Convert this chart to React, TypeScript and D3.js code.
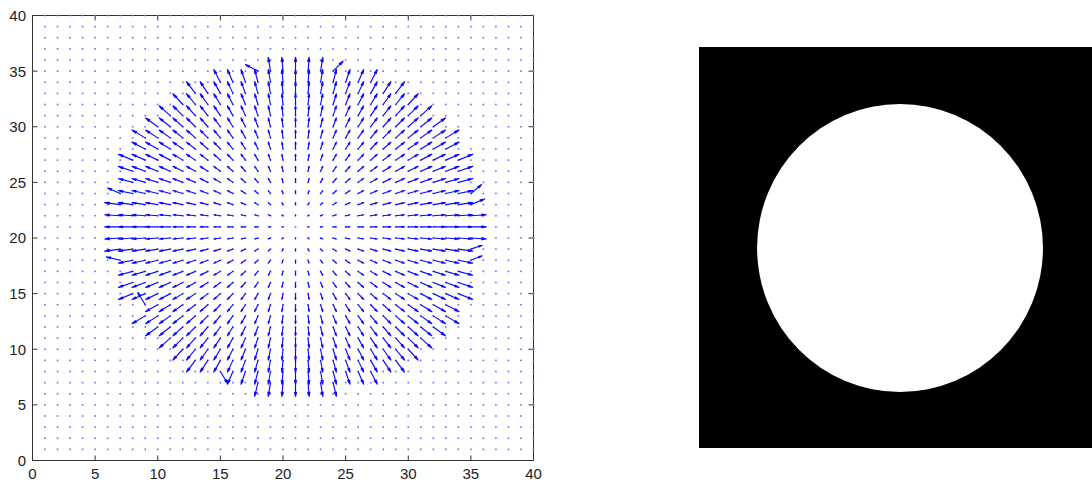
import React from 'react';
import * as d3 from 'd3';

// ---- data ----
const gridMax = 40;
const xTicks = [0, 5, 10, 15, 20, 25, 30, 35, 40];
const yTicks = [0, 5, 10, 15, 20, 25, 30, 35, 40];
const fieldCenter = [21, 21];
const fieldGain = 0.088;
// grid rows that carry non-zero vectors: [y, xFirst, xLast]
const vectorRows: [number, number, number][] = [
  [7, 18, 24], [8, 15, 27], [9, 13, 29], [10, 12, 30], [11, 11, 31], [12, 10, 32],
  [13, 9, 33], [14, 9, 33], [15, 8, 34], [16, 8, 34], [17, 8, 34],
  [18, 7, 35], [19, 7, 35], [20, 7, 35], [21, 7, 35], [22, 7, 35], [23, 7, 35], [24, 7, 35],
  [25, 8, 34], [26, 8, 34], [27, 8, 34], [28, 9, 33], [29, 9, 33], [30, 10, 32],
  [31, 11, 31], [32, 12, 30], [33, 13, 29], [34, 15, 27], [35, 18, 24],
];
// irregular vectors: [x, y, u, v]
const irregular: [number, number, number, number][] = [
  [18, 35, -1.0, 0.6],
  [24, 35, 0.8, 0.9],
  [9, 14, -0.6, 1.1],
  [15, 8, 0.6, -1.1],
  [35, 24, 0.85, 0.8],
  [35, 23, 1.1, 0.5],
  [35, 19, 0.9, 0.35],
  [35, 18, 0.9, 0.4],
  [7, 24, -1.0, 0.5],
  [7, 18, -1.1, 0.3],
];
// right panel: binary image, [cx, cy, rx, ry] in image units (0..40)
const imageDomain = [0, 40];
const imageCircle = [20.46, 20.05, 14.55, 14.36];

export default function App() {
  const x = d3.scaleLinear().domain([0, gridMax]).range([32.5, 533.5]);
  const y = d3.scaleLinear().domain([0, gridMax]).range([460.5, 15.5]);

  const ix = d3.scaleLinear().domain(imageDomain).range([699, 1092]);
  const iy = d3.scaleLinear().domain(imageDomain).range([47, 448]);

  const irrMap = new Map<string, [number, number]>();
  irregular.forEach(([a, b, u, v]) => irrMap.set(`${a},${b}`, [u, v]));

  const arrows = d3.path();
  const alpha = 0.3, beta = 0.22;
  vectorRows.forEach(([gy, x0, x1]) => {
    for (let gx = x0; gx <= x1; gx++) {
      let u = fieldGain * (gx - fieldCenter[0]);
      let v = fieldGain * (gy - fieldCenter[1]);
      const irr = irrMap.get(`${gx},${gy}`);
      if (irr) { u = irr[0]; v = irr[1]; }
      if (Math.abs(u) < 1e-9 && Math.abs(v) < 1e-9) continue;
      const tx = gx + u, ty = gy + v;
      arrows.moveTo(x(gx), y(gy));
      arrows.lineTo(x(tx), y(ty));
      const h1x = tx - alpha * (u + beta * v), h1y = ty - alpha * (v - beta * u);
      const h2x = tx - alpha * (u - beta * v), h2y = ty - alpha * (v + beta * u);
      arrows.moveTo(x(h1x), y(h1y));
      arrows.lineTo(x(tx), y(ty));
      arrows.lineTo(x(h2x), y(h2y));
    }
  });

  const dots: [number, number][] = [];
  for (let gy = 1; gy <= gridMax; gy++) for (let gx = 1; gx <= gridMax; gx++) dots.push([gx, gy]);

  const axisColor = '#333';
  const tickLen = 5;
  const font = '"Liberation Sans", Arial, Helvetica, sans-serif';

  return (
    <svg width={1092} height={482} style={{ position: 'absolute', left: 0, top: 0, background: '#fff' }}>
      <rect x={0} y={0} width={1092} height={482} fill="#fff" />
      {/* axes box */}
      <rect x={x(0)} y={y(40)} width={x(40) - x(0)} height={y(0) - y(40)} fill="none" stroke={axisColor} strokeWidth={1} />
      {xTicks.map(t => (
        <g key={'xt' + t}>
          <line x1={x(t)} x2={x(t)} y1={y(0)} y2={y(0) - tickLen} stroke={axisColor} />
          <line x1={x(t)} x2={x(t)} y1={y(40)} y2={y(40) + tickLen} stroke={axisColor} />
          <text x={x(t)} y={479} textAnchor="middle" fontFamily={font} fontSize={15} fill="#222">{t}</text>
        </g>
      ))}
      {yTicks.map(t => (
        <g key={'yt' + t}>
          <line x1={x(0)} x2={x(0) + tickLen} y1={y(t)} y2={y(t)} stroke={axisColor} />
          <line x1={x(40)} x2={x(40) - tickLen} y1={y(t)} y2={y(t)} stroke={axisColor} />
          <text x={26} y={y(t)} dy="0.36em" textAnchor="end" fontFamily={font} fontSize={15} fill="#222">{t}</text>
        </g>
      ))}
      {/* zero-length vectors */}
      {dots.map(([gx, gy]) => (
        <rect key={`d${gx}-${gy}`} x={x(gx) - 0.8} y={y(gy) - 0.8} width={1.6} height={1.6} fill="#6a6aff" />
      ))}
      <path d={arrows.toString()} fill="none" stroke="#0a0aff" strokeWidth={1.15} strokeLinecap="round" />

      {/* right panel image */}
      <rect x={ix(0)} y={iy(0)} width={ix(40) - ix(0)} height={iy(40) - iy(0)} fill="#000" />
      <ellipse cx={ix(imageCircle[0])} cy={iy(imageCircle[1])}
        rx={ix(imageCircle[2]) - ix(0)} ry={iy(imageCircle[3]) - iy(0)} fill="#fff" />
    </svg>
  );
}
